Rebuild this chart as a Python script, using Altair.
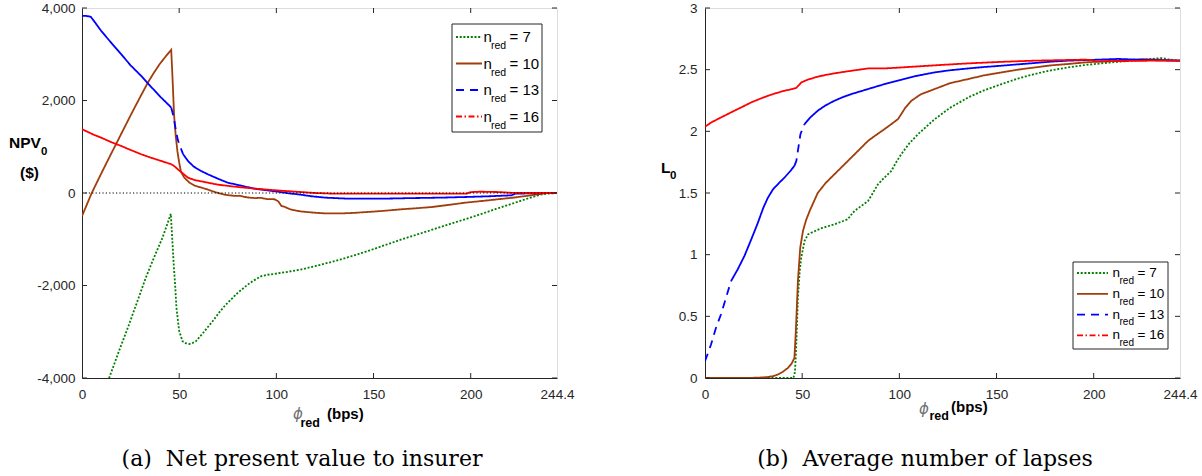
import altair as alt
import pandas as pd

# ---------------------------------------------------------------------------
# Net present value to insurer, NPV_0 ($), against phi_red (bps)
# ---------------------------------------------------------------------------
npv_phi_7 = [0, 5, 10, 14.3, 19, 24.2, 28.5, 32.8, 37, 41.4, 44, 45.7, 46.5, 47.2,
             47.9, 48.6, 50, 51.7, 53.5, 55.2, 57, 58.6, 62, 67.2, 71, 74.1, 77,
             80.1, 83, 85.4, 88, 92.3, 95, 99.1, 105, 112.9, 120, 130, 140, 147,
             155, 164, 170, 178, 187, 197, 205, 213, 222.8, 230, 236.6, 240, 244.4]
npv_val_7 = [-5580, -5000, -4450, -3963, -3420, -2844, -2340, -1834, -1400, -968,
             -660, -448, -1040, -1550, -1977, -2484, -2982, -3205, -3250, -3264,
             -3240, -3205, -3040, -2772, -2560, -2411, -2290, -2159, -2060, -1977,
             -1900, -1798, -1770, -1748, -1710, -1653, -1580, -1473, -1350, -1256,
             -1140, -1010, -930, -823, -700, -570, -460, -345, -210, -110, -28,
             -12, 0]

npv_phi_10 = [0, 2.5, 5, 10, 15, 17.5, 22, 26, 30, 33.9, 37, 40, 43, 45.9, 46.5,
              47.4, 48.2, 49.1, 50, 50.9, 52.5, 55.2, 58, 61, 63.8, 67, 70.6, 74,
              78.5, 81, 85, 88.8, 92, 95, 99, 101, 102.6, 104.3, 107, 110, 112.9,
              119.7, 125, 133.5, 140, 147, 154, 165, 172, 180, 190, 197, 205.7,
              213, 222, 231, 236, 239, 244.4]
npv_val_10 = [-500, -250, 0, 430, 850, 1055, 1430, 1760, 2080, 2389, 2600, 2790,
              2950, 3097, 2560, 1668, 1250, 900, 660, 460, 340, 225, 160, 120, 88,
              40, -8, -40, -62, -60, -95, -110, -105, -130, -135, -180, -280, -300,
              -350, -380, -400, -426, -440, -441, -430, -410, -390, -350, -330,
              -303, -250, -210, -173, -140, -100, -50, -20, 0, 0]

npv_phi_13 = [0, 2, 4.5, 6.5, 9.8, 15, 20.1, 25, 30.4, 35, 40.7, 43.5, 45.9, 47.2,
              48.3, 49.3, 50.2, 52, 54.5, 57.5, 61.3, 65, 70.6, 75, 81, 88.8, 95,
              100.9, 106, 111, 118, 125, 137, 154, 170, 185, 197, 210, 221, 223,
              230, 244.4]
npv_val_13 = [3830, 3830, 3810, 3700, 3509, 3250, 3004, 2760, 2534, 2320, 2064,
              1950, 1848, 1631, 1360, 1150, 1040, 840, 693, 570, 476, 400, 297, 223,
              167, 93, 60, 28, -5, -28, -70, -100, -123, -123, -110, -100, -87, -70,
              -50, -15, -8, 0]

npv_phi_16 = [0, 3, 6, 9.8, 15, 20.1, 25, 30.4, 35, 40.7, 45.9, 47.5, 49.3, 52,
              54.5, 58, 64.8, 70, 76.8, 85, 95.7, 104, 112.9, 120, 128, 140, 160,
              180, 198, 200, 205, 215, 220, 230, 244.4]
npv_val_16 = [1380, 1320, 1260, 1198, 1100, 1018, 930, 838, 770, 693, 622, 580,
              513, 420, 331, 280, 223, 180, 145, 110, 71, 45, 20, 0, -12, -15, -15,
              -15, -12, 20, 28, 20, 5, 0, 0]

# ---------------------------------------------------------------------------
# Average number of lapses, L_0, against phi_red (bps)
# ---------------------------------------------------------------------------
lap_phi_7 = [0, 20, 40, 45.5, 46.3, 46.9, 47.8, 48.7, 49.5, 51.2, 53, 56.4, 60,
             66.6, 73.5, 75, 76.9, 80, 83.9, 86, 89, 92, 95.9, 98, 101, 105, 109.6,
             118.2, 126, 135.4, 144, 152.6, 161, 169.7, 178, 186.9, 195, 204, 212,
             221.2, 228, 234.9, 238, 244.4]
lap_val_7 = [0, 0, 0, 0, 0.05, 0.244, 0.65, 0.86, 0.975, 1.11, 1.165, 1.19, 1.215,
             1.246, 1.287, 1.32, 1.354, 1.39, 1.435, 1.49, 1.571, 1.62, 1.679, 1.74,
             1.815, 1.90, 1.977, 2.099, 2.19, 2.275, 2.335, 2.383, 2.428, 2.465,
             2.495, 2.518, 2.537, 2.551, 2.563, 2.573, 2.585, 2.594, 2.585, 2.573]

lap_phi_10 = [0, 20, 28, 32.3, 35, 37.5, 40, 42.6, 44.5, 46, 46.8, 47.8, 49, 50.4,
              52, 54, 58, 62, 66.6, 71.8, 78, 83.9, 88, 92.4, 96, 99.3, 101, 103,
              106.2, 111, 118.2, 126, 135.4, 144, 152.6, 161, 169.7, 178, 186.9,
              195.5, 205, 215, 225, 235, 244.4]
lap_val_10 = [0, 0, 0.003, 0.008, 0.015, 0.028, 0.05, 0.081, 0.115, 0.162, 0.40,
              0.786, 1.056, 1.192, 1.28, 1.36, 1.50, 1.58, 1.652, 1.733, 1.83, 1.923,
              1.97, 2.018, 2.06, 2.099, 2.14, 2.19, 2.248, 2.30, 2.343, 2.39, 2.424,
              2.455, 2.478, 2.50, 2.518, 2.535, 2.546, 2.559, 2.567, 2.573, 2.585,
              2.58, 2.573]

lap_phi_13 = [0, 3.1, 5.5, 8.2, 10.8, 13.4, 16.8, 20.3, 23.7, 27, 30, 32.3, 35, 38,
              40.9, 44, 46, 47, 47.8, 49.1, 51.2, 54, 58, 62, 66.6, 71, 75.3, 83.9,
              92.4, 101, 109, 118.2, 126, 135.4, 144, 152.6, 161, 169.7, 178, 186.9,
              200, 212.6, 225, 235, 244.4]
lap_val_13 = [0.136, 0.271, 0.40, 0.515, 0.65, 0.786, 0.88, 0.99, 1.12, 1.25, 1.38,
              1.46, 1.53, 1.58, 1.625, 1.68, 1.72, 1.76, 1.842, 1.977, 2.058, 2.11,
              2.167, 2.21, 2.248, 2.278, 2.302, 2.343, 2.383, 2.418, 2.45, 2.478,
              2.495, 2.51, 2.522, 2.532, 2.543, 2.554, 2.565, 2.573, 2.58, 2.587,
              2.58, 2.575, 2.573]

lap_phi_16 = [0, 3, 6.5, 10.8, 15.1, 19.4, 23.7, 28, 32.3, 36.6, 40.9, 44, 46.9,
              48, 49.5, 53, 58, 62, 66.6, 71, 75.3, 83.9, 92.4, 101, 118, 135.4,
              152, 169.7, 185, 195.5, 199, 200.7, 215, 230, 244.4]
lap_val_16 = [2.037, 2.07, 2.099, 2.133, 2.167, 2.20, 2.234, 2.262, 2.288, 2.31,
              2.329, 2.34, 2.351, 2.37, 2.396, 2.42, 2.443, 2.457, 2.470, 2.481,
              2.491, 2.510, 2.510, 2.518, 2.535, 2.551, 2.563, 2.573, 2.578, 2.581,
              2.578, 2.567, 2.57, 2.573, 2.573]

# Series, axis ticks and labels
N_RED = ["7", "10", "13", "16"]
X_TICKS = [0, 50, 100, 150, 200, 244.4]
NPV_TICKS = [-4000, -2000, 0, 2000, 4000]
LAP_TICKS = [0, 0.5, 1, 1.5, 2, 2.5, 3]
CAPTIONS = ["(a)\u00a0 Net present value to insurer", "(b)\u00a0 Average number of lapses"]

# ---------------------------------------------------------------------------
# Styling
# ---------------------------------------------------------------------------
COLORS = ["#008000", "#a13d0b", "#0000ff", "#ff0000"]
PLOT_STYLE = {"7": "dot", "10": "solid", "13": "solid", "16": "solid"}
LEGEND_STYLE = {"7": "dot", "10": "solid", "13": "dash", "16": "dashdot"}
DASH_NAMES = ["dot", "solid", "dash", "dashdot"]
DASH_ARRAYS = [[2, 1.7], [1, 0], [8, 6], [6, 2.5, 1.5, 2.5]]
AX = "#262626"
SANS = "Liberation Sans"
W, H = 475, 370

color_scale = alt.Scale(domain=N_RED, range=COLORS)
dash_scale = alt.Scale(domain=DASH_NAMES, range=DASH_ARRAYS)
ONE = pd.DataFrame({"k": [0]})


def series_rows(phi, val, n, dashed=()):
    """Rows of one curve; pieces inside the `dashed` phi ranges get a dashed stroke."""
    rows, seg, prev_style, prev = [], 0, None, None
    for p, v in zip(phi, val):
        style = "dash" if any(lo <= p <= hi for lo, hi in dashed) else PLOT_STYLE[n]
        if prev_style is not None and style != prev_style:
            seg += 1
            rows.append(dict(phi=prev[0], val=prev[1], n=n, style=style, seg=f"{n}-{seg}"))
        rows.append(dict(phi=p, val=v, n=n, style=style, seg=f"{n}-{seg}"))
        prev_style, prev = style, (p, v)
    return rows


npv_df = pd.DataFrame(
    series_rows(npv_phi_7, npv_val_7, "7")
    + series_rows(npv_phi_10, npv_val_10, "10")
    + series_rows(npv_phi_13, npv_val_13, "13", dashed=[(46.5, 52.5)])
    + series_rows(npv_phi_16, npv_val_16, "16")
)
lap_df = pd.DataFrame(
    series_rows(lap_phi_7, lap_val_7, "7")
    + series_rows(lap_phi_10, lap_val_10, "10")
    + series_rows(lap_phi_13, lap_val_13, "13", dashed=[(0, 14), (46.5, 51.5)])
    + series_rows(lap_phi_16, lap_val_16, "16")
)


def text(s, x, y, size, bold=False, italic=False, color=AX, font=SANS, baseline="middle",
         align="left"):
    return alt.Chart(ONE).mark_text(
        text=s, font=font, fontSize=size, fontWeight="bold" if bold else "normal",
        fontStyle="italic" if italic else "normal", color=color, align=align,
        baseline=baseline,
    ).encode(x=alt.value(x), y=alt.value(y))


def panel(df, y_domain, y_ticks, y_label_expr, y_label_pad, legend, y_title,
          x_title, caption, zero_line):
    xs = alt.Scale(domain=[0, 244.4], nice=False, zero=False)
    ys = alt.Scale(domain=y_domain, nice=False, zero=False)
    x_axis = alt.Axis(values=X_TICKS, labelExpr="'' + datum.value", ticks=False,
                      grid=False, domainColor=AX, labelColor=AX, labelFont=SANS,
                      labelFontSize=13.5, labelPadding=9, title=None,
                      labelFlush=False, labelOverlap=False)
    y_axis = alt.Axis(values=y_ticks, labelExpr=y_label_expr, ticks=False,
                      grid=False, domainColor=AX, labelColor=AX, labelFont=SANS,
                      labelFontSize=13.5, labelPadding=y_label_pad, title=None,
                      labelOverlap=False)
    xenc = alt.X("phi:Q", scale=xs, axis=x_axis)
    yenc = alt.Y("val:Q", scale=ys, axis=y_axis)

    layers = []
    # keep the page origin aligned with the plot frame
    layers.append(alt.Chart(ONE).mark_rect(fill="transparent").encode(
        x=alt.value(-81), x2=alt.value(-80), y=alt.value(-7), y2=alt.value(-6)))

    layers.append(alt.Chart(df).mark_line(strokeWidth=1.8, clip=True).encode(
        x=xenc, y=yenc,
        color=alt.Color("n:N", scale=color_scale, legend=None),
        strokeDash=alt.StrokeDash("style:N", scale=dash_scale, legend=None),
        detail="seg:N",
        order="phi:Q",
    ))

    if zero_line:
        layers.append(alt.Chart(pd.DataFrame({"val": [0]})).mark_rule(
            color="black", strokeWidth=1, strokeDash=[1.2, 2.2]).encode(
            y=yenc, x=alt.value(0), x2=alt.value(W)))

    # inward ticks on all four sides
    xt = pd.DataFrame({"phi": X_TICKS[1:-1]})
    yt = pd.DataFrame({"val": y_ticks})
    tick = dict(color=AX, strokeWidth=1)
    layers += [
        alt.Chart(xt).mark_rule(**tick).encode(x=xenc, y=alt.value(H), y2=alt.value(H - 5)),
        alt.Chart(xt).mark_rule(**tick).encode(x=xenc, y=alt.value(0), y2=alt.value(5)),
        alt.Chart(yt).mark_rule(**tick).encode(y=yenc, x=alt.value(0), x2=alt.value(5)),
        alt.Chart(yt).mark_rule(**tick).encode(y=yenc, x=alt.value(W), x2=alt.value(W - 5)),
    ]

    # legend box
    bx0, bx1, by0, by1, row0, step, lx0, lx1, tx, fs, sub_fs, sub_dx, sub_dy, eq_dx = legend
    layers.append(alt.Chart(ONE).mark_rect(fill="white", stroke=AX, strokeWidth=1).encode(
        x=alt.value(bx0), x2=alt.value(bx1), y=alt.value(by0), y2=alt.value(by1)))
    leg = pd.DataFrame({"n": N_RED, "style": [LEGEND_STYLE[n] for n in N_RED]})
    for i, n in enumerate(N_RED):
        ry = row0 + i * step
        layers.append(alt.Chart(leg).transform_filter(alt.datum.n == n).mark_rule(
            strokeWidth=1.8).encode(
            x=alt.value(lx0), x2=alt.value(lx1), y=alt.value(ry),
            color=alt.Color("n:N", scale=color_scale, legend=None),
            strokeDash=alt.StrokeDash("style:N", scale=dash_scale, legend=None)))
        layers.append(text("n", tx, ry, fs, color="black"))
        layers.append(text("red", tx + sub_dx, ry + sub_dy, sub_fs, color="black"))
        layers.append(text(f"= {n}", tx + eq_dx, ry, fs, color="black"))

    # axis titles
    for s, x, y, size, bold in y_title:
        layers.append(text(s, x, y, size, bold=bold, color="black"))
    (px, py), (rx, ry_), (bx, by) = x_title
    layers.append(text("\u03d5", px, py, 15, italic=True, color="#707070", font="DejaVu Sans"))
    layers.append(text("red", rx, ry_, 12.5, bold=True, color="black"))
    layers.append(text("(bps)", bx, by, 15, bold=True, color="black"))

    # caption under the panel
    layers.append(text(caption, 220, 458, 22, font="DejaVu Serif", color="black",
                       baseline="alphabetic", align="center"))

    return alt.layer(*layers).properties(width=W, height=H)


left = panel(
    npv_df, [-4000, 4000], NPV_TICKS,
    "(datum.value < 0 ? '-' : '') + format(abs(datum.value), ',')", 7,
    legend=(370, 460, 16, 124, 29, 26.5, 374, 400, 401.5, 15, 10.5, 7.5, 9, 26),
    y_title=[("NPV", -73, 135, 15.5, True), ("0", -41, 144, 11.5, True),
             ("($)", -62, 165, 15.5, True)],
    x_title=((211, 406), (218.5, 414.7), (245, 405.7)),
    caption=CAPTIONS[0], zero_line=True,
)

right = panel(
    lap_df, [0, 3], LAP_TICKS, "'' + datum.value", 8,
    legend=(368, 463, 254, 341, 265, 20.8, 372, 403, 407.5, 13.5, 10, 7, 7.7, 25),
    y_title=[("L", -44, 160, 15.5, True), ("0", -35, 168, 11.5, True)],
    x_title=((214, 401), (224.5, 408), (246, 399)),
    caption=CAPTIONS[1], zero_line=False,
)

chart = alt.hconcat(left, right, spacing=148, bounds="flush").properties(
    padding=0
).configure_view(stroke=AX, strokeWidth=1).configure(background="white")

chart.save("out.html", embed_options={"renderer": "svg", "actions": False})
